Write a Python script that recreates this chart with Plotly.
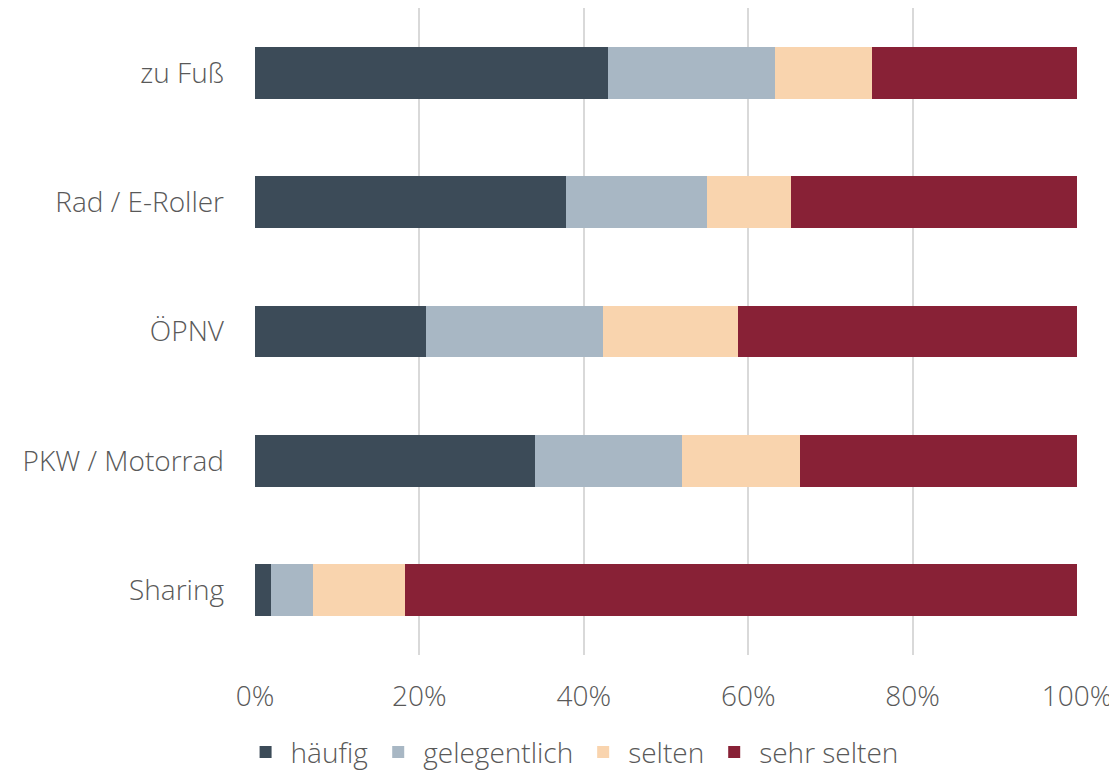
import plotly.graph_objects as go

categories = ["zu Fuß", "Rad / E-Roller", "ÖPNV", "PKW / Motorrad", "Sharing"]
haeufig = [42.9, 37.8, 20.8, 34.1, 1.9]
gelegentlich = [20.3, 17.2, 21.5, 17.9, 5.1]
selten = [11.8, 10.2, 16.5, 14.3, 11.2]
sehr_selten = [25.0, 34.8, 41.2, 33.7, 81.8]
series_names = ["häufig", "gelegentlich", "selten", "sehr selten"]
colors = ["#3C4B58", "#A8B7C4", "#F9D4AE", "#882136"]
tick_vals = [0, 20, 40, 60, 80, 100]
tick_text = ["0%", "20%", "40%", "60%", "80%", "100%"]

font_family = "Open Sans, Lato, sans-serif"
text_color = "#595959"
fsize = 28

fig = go.Figure()
for name, vals, col in zip(series_names, [haeufig, gelegentlich, selten, sehr_selten], colors):
    fig.add_trace(go.Bar(
        y=categories, x=vals, name=name, orientation="h",
        marker=dict(color=col, line=dict(width=0)),
    ))

fig.update_layout(
    barmode="stack",
    bargap=0.6,
    width=1117, height=775,
    margin=dict(l=247, r=48, t=0, b=128, autoexpand=False),
    paper_bgcolor="white", plot_bgcolor="white",
    font=dict(family=font_family, size=fsize, color=text_color, weight=300),
    legend=dict(
        orientation="h", xref="container", yref="container",
        x=0.505, xanchor="center", y=0.072, yanchor="top",
        font=dict(size=fsize, color=text_color, family=font_family, weight=300),
        traceorder="normal", itemwidth=40,
    ),
    xaxis=dict(
        range=[0, 100], tickvals=tick_vals, ticktext=tick_text,
        showgrid=True, gridcolor="#D9D9D9", gridwidth=2,
        zeroline=False, showline=False, ticks="",
        ticklabelstandoff=22, automargin=False,
    ),
    yaxis=dict(
        autorange="reversed", showgrid=False, zeroline=False,
        showline=False, ticks="", ticklabelstandoff=30, automargin=False,
    ),
)

fig.write_html("out.html")
